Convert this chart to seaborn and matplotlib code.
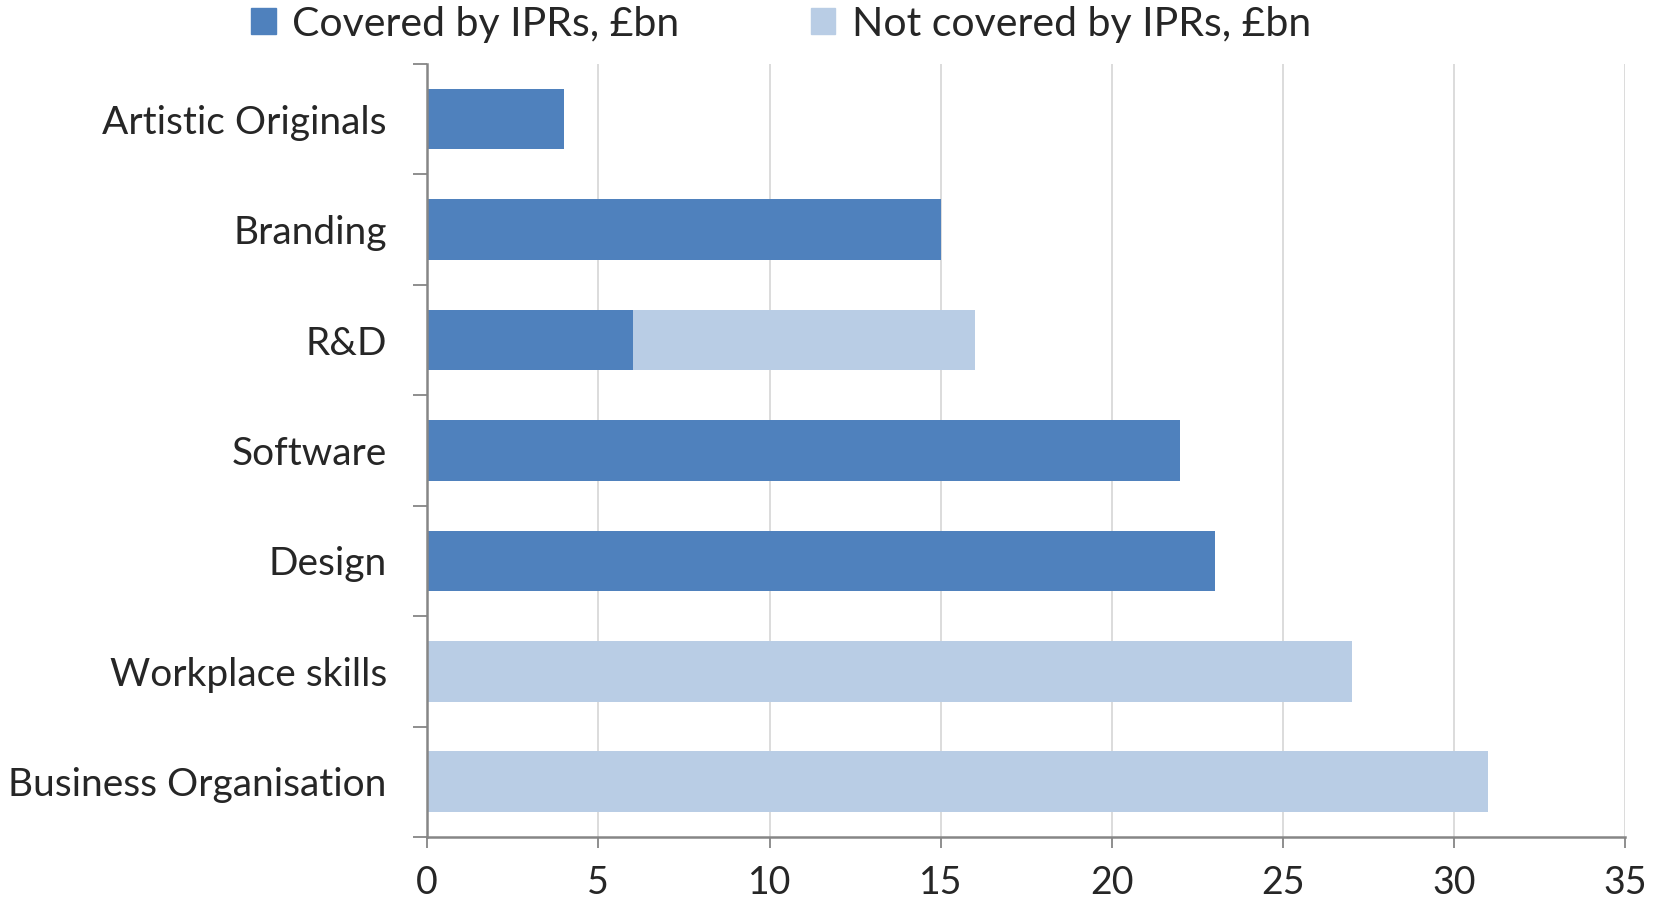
import matplotlib
matplotlib.use("Agg")
import pandas as pd
import seaborn as sns
import matplotlib.pyplot as plt
from matplotlib.patches import Patch

# Data (values in £bn)
categories = ["Artistic Originals", "Branding", "R&D", "Software", "Design",
              "Workplace skills", "Business Organisation"]
covered = [4, 15, 6, 22, 23, 0, 0]
not_covered = [0, 0, 10, 0, 0, 27, 31]
x_ticks = [0, 5, 10, 15, 20, 25, 30, 35]

dark_blue = "#4F81BD"
light_blue = "#B9CDE5"
axis_grey = "#868686"

df = pd.DataFrame({"category": categories, "covered": covered, "not_covered": not_covered})
df["total"] = df["covered"] + df["not_covered"]

sns.set_style("white")
plt.rcParams["font.family"] = ["Lato", "DejaVu Sans"]

fig = plt.figure(figsize=(16.62, 9), dpi=100)
ax = fig.add_axes([0.257, 0.07, 0.721, 0.859])

# stacked horizontal bars: draw the total in light blue, then covered part on top
sns.barplot(data=df, x="total", y="category", order=categories, color=light_blue,
            width=0.55, saturation=1, linewidth=0, ax=ax, orient="h")
sns.barplot(data=df, x="covered", y="category", order=categories, color=dark_blue,
            width=0.55, saturation=1, linewidth=0, ax=ax, orient="h")

ax.set_xlim(0, 35)
ax.set_ylim(len(categories) - 0.5, -0.5)
ax.set_xticks(x_ticks)
ax.set_xlabel("")
ax.set_ylabel("")

ax.grid(axis="x", color="#D9D9D9", linewidth=1.3)
ax.set_axisbelow(True)
for side in ["top", "right"]:
    ax.spines[side].set_visible(False)
for side in ["left", "bottom"]:
    ax.spines[side].set_color(axis_grey)
    ax.spines[side].set_linewidth(1.8)

# category ticks sit between the bars
ax.set_yticks([i - 0.5 for i in range(len(categories) + 1)], minor=True)
ax.tick_params(axis="y", which="major", length=0, pad=29, labelsize=28)
ax.tick_params(axis="y", which="minor", length=10, width=1.3, color=axis_grey, direction="out", left=True)
ax.tick_params(axis="x", which="major", length=8, width=1.3, color=axis_grey, direction="out",
               bottom=True, pad=12, labelsize=27)

handles = [Patch(color=dark_blue, label="Covered by IPRs, £bn"),
           Patch(color=light_blue, label="Not covered by IPRs, £bn")]
fig.legend(handles=handles, loc="center", bbox_to_anchor=(0.47, 0.973), ncol=2,
           frameon=False, fontsize=29.5, handlelength=0.6, handleheight=0.6,
           handletextpad=0.4, columnspacing=3.2)

fig.savefig("out.png", dpi=100)
